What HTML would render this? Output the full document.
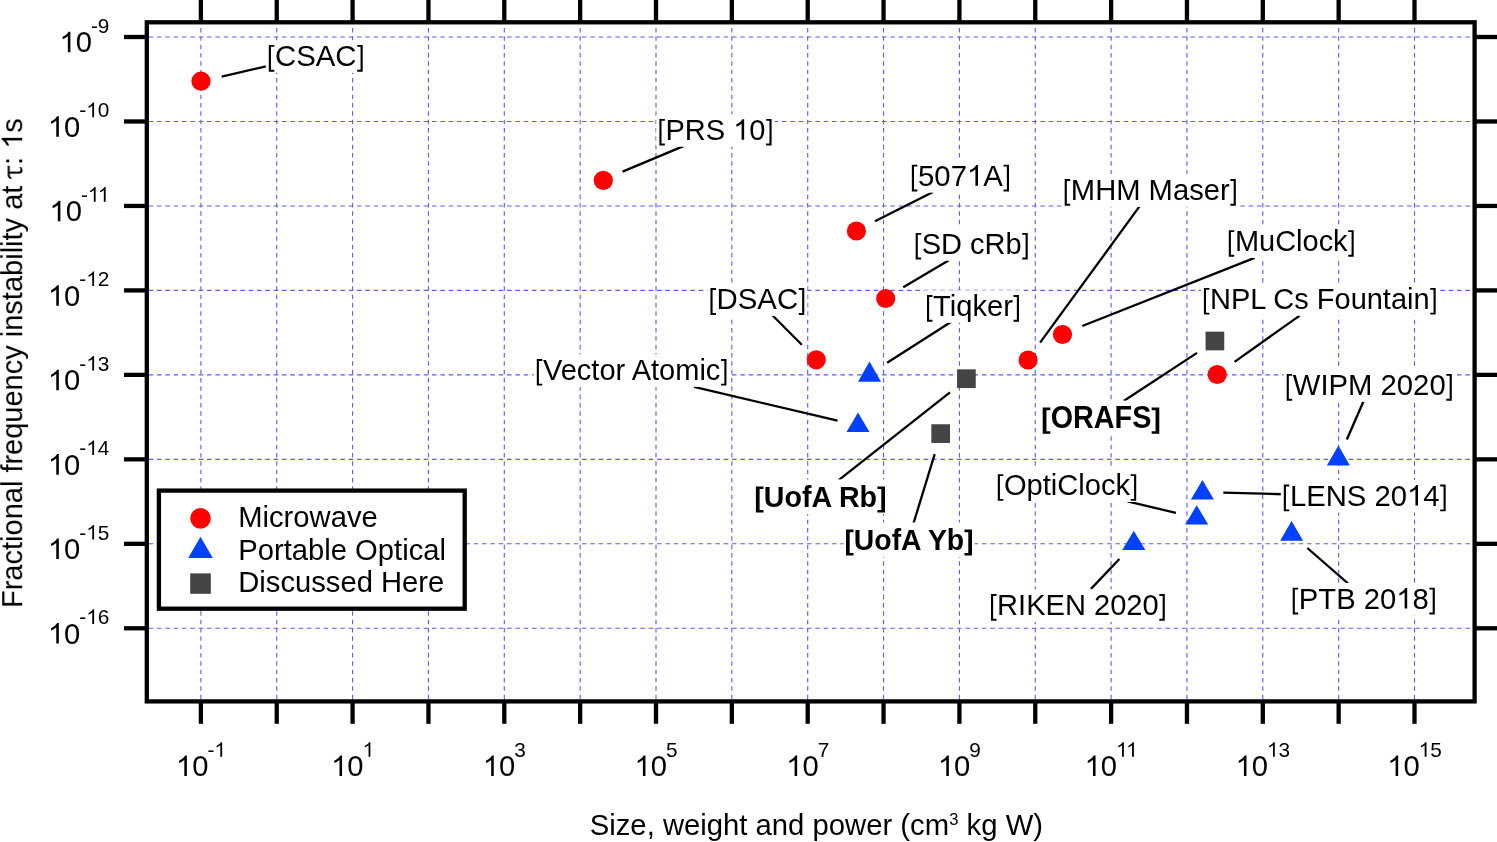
<!DOCTYPE html>
<html><head><meta charset="utf-8"><style>
html,body{margin:0;padding:0;background:#fff;}
body{width:1497px;height:842px;overflow:hidden;}
svg{display:block;}
text{font-family:"Liberation Sans",sans-serif;font-kerning:none;font-variant-ligatures:none;white-space:pre;}
.g{filter:grayscale(1);}
</style></head><body>
<svg width="1497" height="842" viewBox="0 0 1497 842"><rect width="1497" height="842" fill="#fff"/><g stroke="#5a5aff" stroke-width="1.1" fill="none" stroke-dasharray="4.5 3.8333"><line x1="200.90" y1="28.0" x2="200.90" y2="699.25"/><line x1="276.75" y1="28.0" x2="276.75" y2="699.25"/><line x1="352.60" y1="28.0" x2="352.60" y2="699.25"/><line x1="428.45" y1="28.0" x2="428.45" y2="699.25"/><line x1="504.30" y1="28.0" x2="504.30" y2="699.25"/><line x1="580.15" y1="28.0" x2="580.15" y2="699.25"/><line x1="656.00" y1="28.0" x2="656.00" y2="699.25"/><line x1="731.85" y1="28.0" x2="731.85" y2="699.25"/><line x1="807.70" y1="28.0" x2="807.70" y2="699.25"/><line x1="883.55" y1="28.0" x2="883.55" y2="699.25"/><line x1="959.40" y1="28.0" x2="959.40" y2="699.25"/><line x1="1035.25" y1="28.0" x2="1035.25" y2="699.25"/><line x1="1111.10" y1="28.0" x2="1111.10" y2="699.25"/><line x1="1186.95" y1="28.0" x2="1186.95" y2="699.25"/><line x1="1262.80" y1="28.0" x2="1262.80" y2="699.25"/><line x1="1338.65" y1="28.0" x2="1338.65" y2="699.25"/><line x1="1414.50" y1="28.0" x2="1414.50" y2="699.25"/><line x1="148.7" y1="37.00" x2="1472.45" y2="37.00"/><line x1="148.7" y1="121.47" x2="1472.45" y2="121.47"/><line x1="148.7" y1="205.94" x2="1472.45" y2="205.94"/><line x1="148.7" y1="290.41" x2="1472.45" y2="290.41"/><line x1="148.7" y1="374.88" x2="1472.45" y2="374.88"/><line x1="148.7" y1="459.35" x2="1472.45" y2="459.35"/><line x1="148.7" y1="543.82" x2="1472.45" y2="543.82"/><line x1="148.7" y1="628.29" x2="1472.45" y2="628.29"/></g><g stroke="#000" stroke-width="4.3"><rect x="146.8" y="22.3" width="1327.80" height="679.10" fill="none" stroke="#000" stroke-width="4.3" stroke-linejoin="miter"/><line x1="200.90" y1="701.40" x2="200.90" y2="723.8"/><line x1="200.90" y1="22.30" x2="200.90" y2="-2"/><line x1="276.75" y1="701.40" x2="276.75" y2="723.8"/><line x1="276.75" y1="22.30" x2="276.75" y2="-2"/><line x1="352.60" y1="701.40" x2="352.60" y2="723.8"/><line x1="352.60" y1="22.30" x2="352.60" y2="-2"/><line x1="428.45" y1="701.40" x2="428.45" y2="723.8"/><line x1="428.45" y1="22.30" x2="428.45" y2="-2"/><line x1="504.30" y1="701.40" x2="504.30" y2="723.8"/><line x1="504.30" y1="22.30" x2="504.30" y2="-2"/><line x1="580.15" y1="701.40" x2="580.15" y2="723.8"/><line x1="580.15" y1="22.30" x2="580.15" y2="-2"/><line x1="656.00" y1="701.40" x2="656.00" y2="723.8"/><line x1="656.00" y1="22.30" x2="656.00" y2="-2"/><line x1="731.85" y1="701.40" x2="731.85" y2="723.8"/><line x1="731.85" y1="22.30" x2="731.85" y2="-2"/><line x1="807.70" y1="701.40" x2="807.70" y2="723.8"/><line x1="807.70" y1="22.30" x2="807.70" y2="-2"/><line x1="883.55" y1="701.40" x2="883.55" y2="723.8"/><line x1="883.55" y1="22.30" x2="883.55" y2="-2"/><line x1="959.40" y1="701.40" x2="959.40" y2="723.8"/><line x1="959.40" y1="22.30" x2="959.40" y2="-2"/><line x1="1035.25" y1="701.40" x2="1035.25" y2="723.8"/><line x1="1035.25" y1="22.30" x2="1035.25" y2="-2"/><line x1="1111.10" y1="701.40" x2="1111.10" y2="723.8"/><line x1="1111.10" y1="22.30" x2="1111.10" y2="-2"/><line x1="1186.95" y1="701.40" x2="1186.95" y2="723.8"/><line x1="1186.95" y1="22.30" x2="1186.95" y2="-2"/><line x1="1262.80" y1="701.40" x2="1262.80" y2="723.8"/><line x1="1262.80" y1="22.30" x2="1262.80" y2="-2"/><line x1="1338.65" y1="701.40" x2="1338.65" y2="723.8"/><line x1="1338.65" y1="22.30" x2="1338.65" y2="-2"/><line x1="1414.50" y1="701.40" x2="1414.50" y2="723.8"/><line x1="1414.50" y1="22.30" x2="1414.50" y2="-2"/><line x1="146.80" y1="37.00" x2="124" y2="37.00"/><line x1="1474.60" y1="37.00" x2="1500" y2="37.00"/><line x1="146.80" y1="121.47" x2="124" y2="121.47"/><line x1="1474.60" y1="121.47" x2="1500" y2="121.47"/><line x1="146.80" y1="205.94" x2="124" y2="205.94"/><line x1="1474.60" y1="205.94" x2="1500" y2="205.94"/><line x1="146.80" y1="290.41" x2="124" y2="290.41"/><line x1="1474.60" y1="290.41" x2="1500" y2="290.41"/><line x1="146.80" y1="374.88" x2="124" y2="374.88"/><line x1="1474.60" y1="374.88" x2="1500" y2="374.88"/><line x1="146.80" y1="459.35" x2="124" y2="459.35"/><line x1="1474.60" y1="459.35" x2="1500" y2="459.35"/><line x1="146.80" y1="543.82" x2="124" y2="543.82"/><line x1="1474.60" y1="543.82" x2="1500" y2="543.82"/><line x1="146.80" y1="628.29" x2="124" y2="628.29"/><line x1="1474.60" y1="628.29" x2="1500" y2="628.29"/></g><g class="g" fill="#000"><path transform="translate(59.43,52.30) scale(0.01426,-0.01426)" d="M590 0L770 0L770 1440L650 1440Q604 1353 492 1253Q380 1154 223 1084L223 913Q306 944 412 1005Q518 1066 590 1127Z"/><text x="75.67" y="52.30" font-size="29.2">0</text><text x="90.91 97.83" y="32.70" font-size="20.8">-9</text><path transform="translate(47.86,136.77) scale(0.01426,-0.01426)" d="M590 0L770 0L770 1440L650 1440Q604 1353 492 1253Q380 1154 223 1084L223 913Q306 944 412 1005Q518 1066 590 1127Z"/><text x="64.10" y="136.77" font-size="29.2">0</text><text x="79.34" y="117.17" font-size="20.8">-</text><path transform="translate(86.26,117.17) scale(0.01016,-0.01016)" d="M590 0L770 0L770 1440L650 1440Q604 1353 492 1253Q380 1154 223 1084L223 913Q306 944 412 1005Q518 1066 590 1127Z"/><text x="97.83" y="117.17" font-size="20.8">0</text><path transform="translate(49.40,221.24) scale(0.01426,-0.01426)" d="M590 0L770 0L770 1440L650 1440Q604 1353 492 1253Q380 1154 223 1084L223 913Q306 944 412 1005Q518 1066 590 1127Z"/><text x="65.64" y="221.24" font-size="29.2">0</text><text x="80.88" y="201.64" font-size="20.8">-</text><path transform="translate(87.81,201.64) scale(0.01016,-0.01016)" d="M590 0L770 0L770 1440L650 1440Q604 1353 492 1253Q380 1154 223 1084L223 913Q306 944 412 1005Q518 1066 590 1127Z"/><path transform="translate(97.83,201.64) scale(0.01016,-0.01016)" d="M590 0L770 0L770 1440L650 1440Q604 1353 492 1253Q380 1154 223 1084L223 913Q306 944 412 1005Q518 1066 590 1127Z"/><path transform="translate(47.86,305.71) scale(0.01426,-0.01426)" d="M590 0L770 0L770 1440L650 1440Q604 1353 492 1253Q380 1154 223 1084L223 913Q306 944 412 1005Q518 1066 590 1127Z"/><text x="64.10" y="305.71" font-size="29.2">0</text><text x="79.34" y="286.11" font-size="20.8">-</text><path transform="translate(86.26,286.11) scale(0.01016,-0.01016)" d="M590 0L770 0L770 1440L650 1440Q604 1353 492 1253Q380 1154 223 1084L223 913Q306 944 412 1005Q518 1066 590 1127Z"/><text x="97.83" y="286.11" font-size="20.8">2</text><path transform="translate(47.86,390.18) scale(0.01426,-0.01426)" d="M590 0L770 0L770 1440L650 1440Q604 1353 492 1253Q380 1154 223 1084L223 913Q306 944 412 1005Q518 1066 590 1127Z"/><text x="64.10" y="390.18" font-size="29.2">0</text><text x="79.34" y="370.58" font-size="20.8">-</text><path transform="translate(86.26,370.58) scale(0.01016,-0.01016)" d="M590 0L770 0L770 1440L650 1440Q604 1353 492 1253Q380 1154 223 1084L223 913Q306 944 412 1005Q518 1066 590 1127Z"/><text x="97.83" y="370.58" font-size="20.8">3</text><path transform="translate(47.86,474.65) scale(0.01426,-0.01426)" d="M590 0L770 0L770 1440L650 1440Q604 1353 492 1253Q380 1154 223 1084L223 913Q306 944 412 1005Q518 1066 590 1127Z"/><text x="64.10" y="474.65" font-size="29.2">0</text><text x="79.34" y="455.05" font-size="20.8">-</text><path transform="translate(86.26,455.05) scale(0.01016,-0.01016)" d="M590 0L770 0L770 1440L650 1440Q604 1353 492 1253Q380 1154 223 1084L223 913Q306 944 412 1005Q518 1066 590 1127Z"/><text x="97.83" y="455.05" font-size="20.8">4</text><path transform="translate(47.86,559.12) scale(0.01426,-0.01426)" d="M590 0L770 0L770 1440L650 1440Q604 1353 492 1253Q380 1154 223 1084L223 913Q306 944 412 1005Q518 1066 590 1127Z"/><text x="64.10" y="559.12" font-size="29.2">0</text><text x="79.34" y="539.52" font-size="20.8">-</text><path transform="translate(86.26,539.52) scale(0.01016,-0.01016)" d="M590 0L770 0L770 1440L650 1440Q604 1353 492 1253Q380 1154 223 1084L223 913Q306 944 412 1005Q518 1066 590 1127Z"/><text x="97.83" y="539.52" font-size="20.8">5</text><path transform="translate(47.86,643.59) scale(0.01426,-0.01426)" d="M590 0L770 0L770 1440L650 1440Q604 1353 492 1253Q380 1154 223 1084L223 913Q306 944 412 1005Q518 1066 590 1127Z"/><text x="64.10" y="643.59" font-size="29.2">0</text><text x="79.34" y="623.99" font-size="20.8">-</text><path transform="translate(86.26,623.99) scale(0.01016,-0.01016)" d="M590 0L770 0L770 1440L650 1440Q604 1353 492 1253Q380 1154 223 1084L223 913Q306 944 412 1005Q518 1066 590 1127Z"/><text x="97.83" y="623.99" font-size="20.8">6</text><path transform="translate(175.91,776.10) scale(0.01426,-0.01426)" d="M590 0L770 0L770 1440L650 1440Q604 1353 492 1253Q380 1154 223 1084L223 913Q306 944 412 1005Q518 1066 590 1127Z"/><text x="192.15" y="776.10" font-size="29.2">0</text><text x="207.39" y="756.80" font-size="20.8">-</text><path transform="translate(214.32,756.80) scale(0.01016,-0.01016)" d="M590 0L770 0L770 1440L650 1440Q604 1353 492 1253Q380 1154 223 1084L223 913Q306 944 412 1005Q518 1066 590 1127Z"/><path transform="translate(331.08,776.10) scale(0.01426,-0.01426)" d="M590 0L770 0L770 1440L650 1440Q604 1353 492 1253Q380 1154 223 1084L223 913Q306 944 412 1005Q518 1066 590 1127Z"/><text x="347.32" y="776.10" font-size="29.2">0</text><path transform="translate(362.56,756.80) scale(0.01016,-0.01016)" d="M590 0L770 0L770 1440L650 1440Q604 1353 492 1253Q380 1154 223 1084L223 913Q306 944 412 1005Q518 1066 590 1127Z"/><path transform="translate(482.78,776.10) scale(0.01426,-0.01426)" d="M590 0L770 0L770 1440L650 1440Q604 1353 492 1253Q380 1154 223 1084L223 913Q306 944 412 1005Q518 1066 590 1127Z"/><text x="499.02" y="776.10" font-size="29.2">0</text><text x="514.26" y="756.80" font-size="20.8">3</text><path transform="translate(634.48,776.10) scale(0.01426,-0.01426)" d="M590 0L770 0L770 1440L650 1440Q604 1353 492 1253Q380 1154 223 1084L223 913Q306 944 412 1005Q518 1066 590 1127Z"/><text x="650.72" y="776.10" font-size="29.2">0</text><text x="665.96" y="756.80" font-size="20.8">5</text><path transform="translate(786.18,776.10) scale(0.01426,-0.01426)" d="M590 0L770 0L770 1440L650 1440Q604 1353 492 1253Q380 1154 223 1084L223 913Q306 944 412 1005Q518 1066 590 1127Z"/><text x="802.42" y="776.10" font-size="29.2">0</text><text x="817.66" y="756.80" font-size="20.8">7</text><path transform="translate(937.88,776.10) scale(0.01426,-0.01426)" d="M590 0L770 0L770 1440L650 1440Q604 1353 492 1253Q380 1154 223 1084L223 913Q306 944 412 1005Q518 1066 590 1127Z"/><text x="954.12" y="776.10" font-size="29.2">0</text><text x="969.36" y="756.80" font-size="20.8">9</text><path transform="translate(1084.56,776.10) scale(0.01426,-0.01426)" d="M590 0L770 0L770 1440L650 1440Q604 1353 492 1253Q380 1154 223 1084L223 913Q306 944 412 1005Q518 1066 590 1127Z"/><text x="1100.80" y="776.10" font-size="29.2">0</text><path transform="translate(1116.04,756.80) scale(0.01016,-0.01016)" d="M590 0L770 0L770 1440L650 1440Q604 1353 492 1253Q380 1154 223 1084L223 913Q306 944 412 1005Q518 1066 590 1127Z"/><path transform="translate(1126.07,756.80) scale(0.01016,-0.01016)" d="M590 0L770 0L770 1440L650 1440Q604 1353 492 1253Q380 1154 223 1084L223 913Q306 944 412 1005Q518 1066 590 1127Z"/><path transform="translate(1235.49,776.10) scale(0.01426,-0.01426)" d="M590 0L770 0L770 1440L650 1440Q604 1353 492 1253Q380 1154 223 1084L223 913Q306 944 412 1005Q518 1066 590 1127Z"/><text x="1251.73" y="776.10" font-size="29.2">0</text><path transform="translate(1266.97,756.80) scale(0.01016,-0.01016)" d="M590 0L770 0L770 1440L650 1440Q604 1353 492 1253Q380 1154 223 1084L223 913Q306 944 412 1005Q518 1066 590 1127Z"/><text x="1278.54" y="756.80" font-size="20.8">3</text><path transform="translate(1387.19,776.10) scale(0.01426,-0.01426)" d="M590 0L770 0L770 1440L650 1440Q604 1353 492 1253Q380 1154 223 1084L223 913Q306 944 412 1005Q518 1066 590 1127Z"/><text x="1403.43" y="776.10" font-size="29.2">0</text><path transform="translate(1418.67,756.80) scale(0.01016,-0.01016)" d="M590 0L770 0L770 1440L650 1440Q604 1353 492 1253Q380 1154 223 1084L223 913Q306 944 412 1005Q518 1066 590 1127Z"/><text x="1430.24" y="756.80" font-size="20.8">5</text><text x="589.73 609.24 615.74 630.36 646.63 662.89 684.01 700.28 706.77 723.04 739.31 755.56 771.83 788.10 812.49 828.76 845.03 866.15 882.42 900.28 910.02 924.65" y="835.10" font-size="29.25">Size,weightandpower(cm</text><text x="949.32" y="824.60" font-size="16.5">3</text><text x="966.62 981.24 1005.64 1033.25" y="835.10" font-size="29.25">kgW)</text><g transform="translate(22.2,607.98) rotate(-90)"><text x="0.00 17.71 27.37 43.50 58.00 66.06 72.50 88.63 104.76 120.89 135.39 143.44 153.10 169.23 185.36 201.48 217.61 233.74 248.24 270.80 277.24 293.37 307.87 315.93 332.06 348.18 354.63 361.07 367.51 375.57 398.13 414.26" y="0.00" font-size="29.0">Fractionalfrequencyinstabilityat</text><path transform="translate(430.37,0.00) scale(0.01416,-0.01416)" d="M-100 760Q-80 1017 200 1017L835 1017L835 875L424 875L424 230Q424 120 560 120Q680 120 741 190L760 80Q680 -20 540 -20Q283 -20 283 200L283 875L200 875Q30 875 10 760Z"/><text x="443.10" y="0.00" font-size="29.0">:</text><path transform="translate(459.21,0.00) scale(0.01416,-0.01416)" d="M590 0L770 0L770 1440L650 1440Q604 1353 492 1253Q380 1154 223 1084L223 913Q306 944 412 1005Q518 1066 590 1127Z"/><text x="475.34" y="0.00" font-size="29.0">s</text></g></g><g stroke="#000" stroke-width="2.3" stroke-linecap="butt"><line x1="221.69" y1="76.73" x2="268.26" y2="65.76"/><line x1="622.58" y1="171.58" x2="683.48" y2="146.12"/><line x1="874.97" y1="221.17" x2="933.04" y2="191.93"/><line x1="903.26" y1="287.15" x2="948.49" y2="260.44"/><line x1="772.14" y1="315.04" x2="801.79" y2="344.79"/><line x1="887.15" y1="362.84" x2="951.26" y2="321.79"/><line x1="1040.08" y1="342.56" x2="1139.68" y2="206.19"/><line x1="1082.28" y1="325.99" x2="1254.59" y2="257.85"/><line x1="1234.54" y1="361.83" x2="1299.72" y2="315.63"/><line x1="694.04" y1="386.96" x2="837.51" y2="420.53"/><line x1="1123.65" y1="400.92" x2="1197.05" y2="352.86"/><line x1="1346.82" y1="439.53" x2="1363.90" y2="400.43"/><line x1="838.72" y1="480.13" x2="949.96" y2="392.29"/><line x1="913.26" y1="524.13" x2="934.71" y2="454.09"/><line x1="1127.54" y1="501.35" x2="1175.91" y2="512.93"/><line x1="1223.30" y1="492.61" x2="1283.30" y2="494.24"/><line x1="1090.97" y1="588.89" x2="1119.39" y2="558.92"/><line x1="1307.33" y1="548.00" x2="1347.93" y2="583.39"/></g><g class="g" fill="#000"><rect x="265.81" y="40.35" width="99.89" height="32.56" fill="#fff"/><path transform="translate(266.81,65.90) scale(0.01434,-0.01434)" d="M139 -407L139 1466L524 1466L524 1335L289 1335L289 -276L524 -276L524 -407Z"/><text x="274.96 296.17 315.75 335.33" y="65.90" font-size="29.36">CSAC</text><path transform="translate(356.54,65.90) scale(0.01434,-0.01434)" d="M430 -407L430 1466L45 1466L45 1335L280 1335L280 -276L45 -276L45 -407Z"/><rect x="656.43" y="114.15" width="118.14" height="32.56" fill="#fff"/><path transform="translate(657.43,139.70) scale(0.01417,-0.01417)" d="M139 -407L139 1466L524 1466L524 1335L289 1335L289 -276L524 -276L524 -407Z"/><text x="665.49 684.85 705.81" y="139.70" font-size="29.02">PRS</text><path transform="translate(733.23,139.70) scale(0.01417,-0.01417)" d="M590 0L770 0L770 1440L650 1440Q604 1353 492 1253Q380 1154 223 1084L223 913Q306 944 412 1005Q518 1066 590 1127Z"/><text x="749.36" y="139.70" font-size="29.02">0</text><path transform="translate(765.50,139.70) scale(0.01417,-0.01417)" d="M430 -407L430 1466L45 1466L45 1335L280 1335L280 -276L45 -276L45 -407Z"/><rect x="908.86" y="160.10" width="103.14" height="32.56" fill="#fff"/><path transform="translate(909.86,185.65) scale(0.01433,-0.01433)" d="M139 -407L139 1466L524 1466L524 1335L289 1335L289 -276L524 -276L524 -407Z"/><text x="918.01 934.33 950.65" y="185.65" font-size="29.34">507</text><path transform="translate(966.96,185.65) scale(0.01433,-0.01433)" d="M590 0L770 0L770 1440L650 1440Q604 1353 492 1253Q380 1154 223 1084L223 913Q306 944 412 1005Q518 1066 590 1127Z"/><text x="983.28" y="185.65" font-size="29.34">A</text><path transform="translate(1002.85,185.65) scale(0.01433,-0.01433)" d="M430 -407L430 1466L45 1466L45 1335L280 1335L280 -276L45 -276L45 -407Z"/><rect x="912.73" y="228.15" width="117.95" height="32.56" fill="#fff"/><path transform="translate(913.73,253.70) scale(0.01415,-0.01415)" d="M139 -407L139 1466L524 1466L524 1335L289 1335L289 -276L524 -276L524 -407Z"/><text x="921.78 941.11 970.09 984.58 1005.51" y="253.70" font-size="28.98">SDcRb</text><path transform="translate(1021.63,253.70) scale(0.01415,-0.01415)" d="M430 -407L430 1466L45 1466L45 1335L280 1335L280 -276L45 -276L45 -407Z"/><rect x="707.46" y="283.55" width="99.82" height="32.56" fill="#fff"/><path transform="translate(708.46,309.10) scale(0.01433,-0.01433)" d="M139 -407L139 1466L524 1466L524 1335L289 1335L289 -276L524 -276L524 -407Z"/><text x="716.61 737.80 757.37 776.94" y="309.10" font-size="29.34">DSAC</text><path transform="translate(798.13,309.10) scale(0.01433,-0.01433)" d="M430 -407L430 1466L45 1466L45 1335L280 1335L280 -276L45 -276L45 -407Z"/><rect x="924.02" y="290.30" width="97.94" height="32.56" fill="#fff"/><path transform="translate(925.02,315.85) scale(0.01421,-0.01421)" d="M139 -407L139 1466L524 1466L524 1335L289 1335L289 -276L524 -276L524 -407Z"/><text x="933.11 949.81 956.27 972.45 987.00 1003.19" y="315.85" font-size="29.1">Tiqker</text><path transform="translate(1012.88,315.85) scale(0.01421,-0.01421)" d="M430 -407L430 1466L45 1466L45 1335L280 1335L280 -276L45 -276L45 -407Z"/><rect x="1061.72" y="174.35" width="177.08" height="32.56" fill="#fff"/><path transform="translate(1062.72,199.90) scale(0.01425,-0.01425)" d="M139 -407L139 1466L524 1466L524 1335L289 1335L289 -276L524 -276L524 -407Z"/><text x="1070.83 1095.13 1116.21 1148.62 1172.93 1189.16 1203.75 1219.98" y="199.90" font-size="29.18">MHMMaser</text><path transform="translate(1229.69,199.90) scale(0.01425,-0.01425)" d="M430 -407L430 1466L45 1466L45 1335L280 1335L280 -276L45 -276L45 -407Z"/><rect x="1225.83" y="225.35" width="130.83" height="32.56" fill="#fff"/><path transform="translate(1226.83,250.90) scale(0.01415,-0.01415)" d="M139 -407L139 1466L524 1466L524 1335L289 1335L289 -276L524 -276L524 -407Z"/><text x="1234.88 1259.03 1275.14 1296.07 1302.51 1318.63 1333.12" y="250.90" font-size="28.98">MuClock</text><path transform="translate(1347.61,250.90) scale(0.01415,-0.01415)" d="M430 -407L430 1466L45 1466L45 1335L280 1335L280 -276L45 -276L45 -407Z"/><rect x="1200.93" y="283.20" width="237.70" height="32.56" fill="#fff"/><path transform="translate(1201.93,308.75) scale(0.01415,-0.01415)" d="M139 -407L139 1466L524 1466L524 1335L289 1335L289 -276L524 -276L524 -407Z"/><text x="1209.98 1230.91 1250.24 1273.34 1294.26 1316.81 1334.51 1350.63 1366.74 1382.86 1390.91 1407.03 1413.47" y="308.75" font-size="28.98">NPLCsFountain</text><path transform="translate(1429.58,308.75) scale(0.01415,-0.01415)" d="M430 -407L430 1466L45 1466L45 1335L280 1335L280 -276L45 -276L45 -407Z"/><rect x="533.83" y="354.25" width="195.61" height="32.56" fill="#fff"/><path transform="translate(534.83,379.80) scale(0.01417,-0.01417)" d="M139 -407L139 1466L524 1466L524 1335L289 1335L289 -276L524 -276L524 -407Z"/><text x="542.90 560.66 576.80 591.32 599.38 615.53 631.66 651.02 659.09 675.23 699.41 705.86" y="379.80" font-size="29.03">VectorAtomic</text><path transform="translate(720.38,379.80) scale(0.01417,-0.01417)" d="M430 -407L430 1466L45 1466L45 1335L280 1335L280 -276L45 -276L45 -407Z"/><rect x="1040.09" y="400.65" width="121.81" height="34.51" fill="#fff"/><path transform="translate(1041.09,428.15) scale(0.01404,-0.01489)" d="M115 -384L115 1383L657 1383L657 1204L381 1204L381 -205L657 -205L657 -384Z"/><text transform="translate(0,428.15) scale(1,1.06)" x="1050.66 1073.03 1093.80 1114.57 1132.14" y="0" font-size="28.76" font-weight="bold">ORAFS</text><path transform="translate(1151.32,428.15) scale(0.01404,-0.01489)" d="M567 -384L567 1383L25 1383L25 1204L301 1204L301 -205L25 -205L25 -384Z"/><rect x="1283.71" y="369.30" width="171.06" height="32.56" fill="#fff"/><path transform="translate(1284.71,394.85) scale(0.01428,-0.01428)" d="M139 -407L139 1466L524 1466L524 1335L289 1335L289 -276L524 -276L524 -407Z"/><text x="1292.84 1320.45 1328.58 1348.09 1380.58 1396.84 1413.11 1429.38" y="394.85" font-size="29.25">WIPM2020</text><path transform="translate(1445.65,394.85) scale(0.01428,-0.01428)" d="M430 -407L430 1466L45 1466L45 1335L280 1335L280 -276L45 -276L45 -407Z"/><rect x="753.29" y="479.40" width="134.31" height="34.51" fill="#fff"/><path transform="translate(754.29,506.90) scale(0.01396,-0.01480)" d="M115 -384L115 1383L657 1383L657 1204L381 1204L381 -205L657 -205L657 -384Z"/><text transform="translate(0,506.90) scale(1,1.06)" x="763.82 784.46 801.93 811.45 838.98 859.62" y="0" font-size="28.59" font-weight="bold">UofARb</text><path transform="translate(877.09,506.90) scale(0.01396,-0.01480)" d="M567 -384L567 1383L25 1383L25 1204L301 1204L301 -205L25 -205L25 -384Z"/><rect x="843.41" y="522.40" width="131.17" height="34.51" fill="#fff"/><path transform="translate(844.41,549.90) scale(0.01385,-0.01468)" d="M115 -384L115 1383L657 1383L657 1204L381 1204L381 -205L657 -205L657 -384Z"/><text transform="translate(0,549.90) scale(1,1.06)" x="853.85 874.33 891.66 901.10 927.90 946.81" y="0" font-size="28.36" font-weight="bold">UofAYb</text><path transform="translate(964.13,549.90) scale(0.01385,-0.01468)" d="M567 -384L567 1383L25 1383L25 1204L301 1204L301 -205L25 -205L25 -384Z"/><rect x="994.82" y="469.45" width="144.35" height="32.56" fill="#fff"/><path transform="translate(995.82,495.00) scale(0.01421,-0.01421)" d="M139 -407L139 1466L524 1466L524 1335L289 1335L289 -276L524 -276L524 -407Z"/><text x="1003.91 1026.55 1042.74 1050.83 1057.30 1078.32 1084.79 1100.98 1115.53" y="495.00" font-size="29.11">OptiClock</text><path transform="translate(1130.09,495.00) scale(0.01421,-0.01421)" d="M430 -407L430 1466L45 1466L45 1335L280 1335L280 -276L45 -276L45 -407Z"/><rect x="1280.81" y="480.00" width="167.86" height="32.56" fill="#fff"/><path transform="translate(1281.81,505.55) scale(0.01428,-0.01428)" d="M139 -407L139 1466L524 1466L524 1335L289 1335L289 -276L524 -276L524 -407Z"/><text x="1289.94 1306.21 1325.72 1346.84 1374.48 1390.75" y="505.55" font-size="29.25">LENS20</text><path transform="translate(1407.01,505.55) scale(0.01428,-0.01428)" d="M590 0L770 0L770 1440L650 1440Q604 1353 492 1253Q380 1154 223 1084L223 913Q306 944 412 1005Q518 1066 590 1127Z"/><text x="1423.28" y="505.55" font-size="29.25">4</text><path transform="translate(1439.55,505.55) scale(0.01428,-0.01428)" d="M430 -407L430 1466L45 1466L45 1335L280 1335L280 -276L45 -276L45 -407Z"/><rect x="988.03" y="589.30" width="179.74" height="32.56" fill="#fff"/><path transform="translate(989.03,614.85) scale(0.01419,-0.01419)" d="M139 -407L139 1466L524 1466L524 1335L289 1335L289 -276L524 -276L524 -407Z"/><text x="997.10 1018.10 1026.17 1045.56 1064.95 1094.02 1110.19 1126.36 1142.52" y="614.85" font-size="29.07">RIKEN2020</text><path transform="translate(1158.69,614.85) scale(0.01419,-0.01419)" d="M430 -407L430 1466L45 1466L45 1335L280 1335L280 -276L45 -276L45 -407Z"/><rect x="1289.72" y="583.05" width="148.09" height="32.56" fill="#fff"/><path transform="translate(1290.72,608.60) scale(0.01426,-0.01426)" d="M139 -407L139 1466L524 1466L524 1335L289 1335L289 -276L524 -276L524 -407Z"/><text x="1298.83 1318.31 1336.14 1363.73 1379.97" y="608.60" font-size="29.2">PTB20</text><path transform="translate(1396.21,608.60) scale(0.01426,-0.01426)" d="M590 0L770 0L770 1440L650 1440Q604 1353 492 1253Q380 1154 223 1084L223 913Q306 944 412 1005Q518 1066 590 1127Z"/><text x="1412.45" y="608.60" font-size="29.2">8</text><path transform="translate(1428.69,608.60) scale(0.01426,-0.01426)" d="M430 -407L430 1466L45 1466L45 1335L280 1335L280 -276L45 -276L45 -407Z"/></g><g><circle cx="201.0" cy="81.2" r="9.6" fill="#ff0000"/><circle cx="603.3" cy="180.4" r="9.6" fill="#ff0000"/><circle cx="856.4" cy="231.0" r="9.6" fill="#ff0000"/><circle cx="885.7" cy="298.5" r="9.6" fill="#ff0000"/><circle cx="816.3" cy="359.8" r="9.6" fill="#ff0000"/><circle cx="1028.1" cy="360.0" r="9.6" fill="#ff0000"/><circle cx="1062.5" cy="334.5" r="9.6" fill="#ff0000"/><circle cx="1217.2" cy="374.5" r="9.6" fill="#ff0000"/><polygon points="869.50,361.60 881.00,381.70 858.00,381.70" fill="#0040ff"/><polygon points="858.00,412.40 869.50,432.00 846.50,432.00" fill="#0040ff"/><polygon points="1338.40,445.40 1349.90,465.60 1326.90,465.60" fill="#0040ff"/><polygon points="1202.40,480.00 1213.90,499.60 1190.90,499.60" fill="#0040ff"/><polygon points="1196.70,505.20 1208.20,524.60 1185.20,524.60" fill="#0040ff"/><polygon points="1133.80,530.80 1145.30,550.00 1122.30,550.00" fill="#0040ff"/><polygon points="1291.60,521.00 1303.10,540.70 1280.10,540.70" fill="#0040ff"/><rect x="957.05" y="369.35" width="18.7" height="18.7" fill="#444"/><rect x="931.35" y="424.25" width="18.7" height="18.7" fill="#444"/><rect x="1205.55" y="331.65" width="18.7" height="18.7" fill="#444"/></g><g><rect x="158.9" y="490.6" width="305.8" height="118.1" fill="#fff" stroke="#000" stroke-width="4.3"/><circle cx="200.5" cy="518.4" r="10.3" fill="#ff0000"/><polygon points="200.5,536.8 212.8,558 188.2,558" fill="#0040ff"/><rect x="190.2" y="573.4" width="20.6" height="20.4" fill="#444"/></g><g class="g" fill="#000"><text x="238.20 262.53 269.02 283.62 293.34 309.58 330.67 346.91 361.51" y="527.10" font-size="29.2">Microwave</text><text x="238.20 257.68 273.92 283.64 291.76 308.00 324.24 330.72 355.08 377.79 394.03 402.14 408.63 423.23 439.47" y="560.00" font-size="29.2">PortableOptical</text><text x="238.20 259.29 265.78 280.38 294.98 311.22 325.82 340.42 356.66 381.01 402.10 418.34 428.06" y="592.00" font-size="29.2">DiscussedHere</text></g></svg>
</body></html>
